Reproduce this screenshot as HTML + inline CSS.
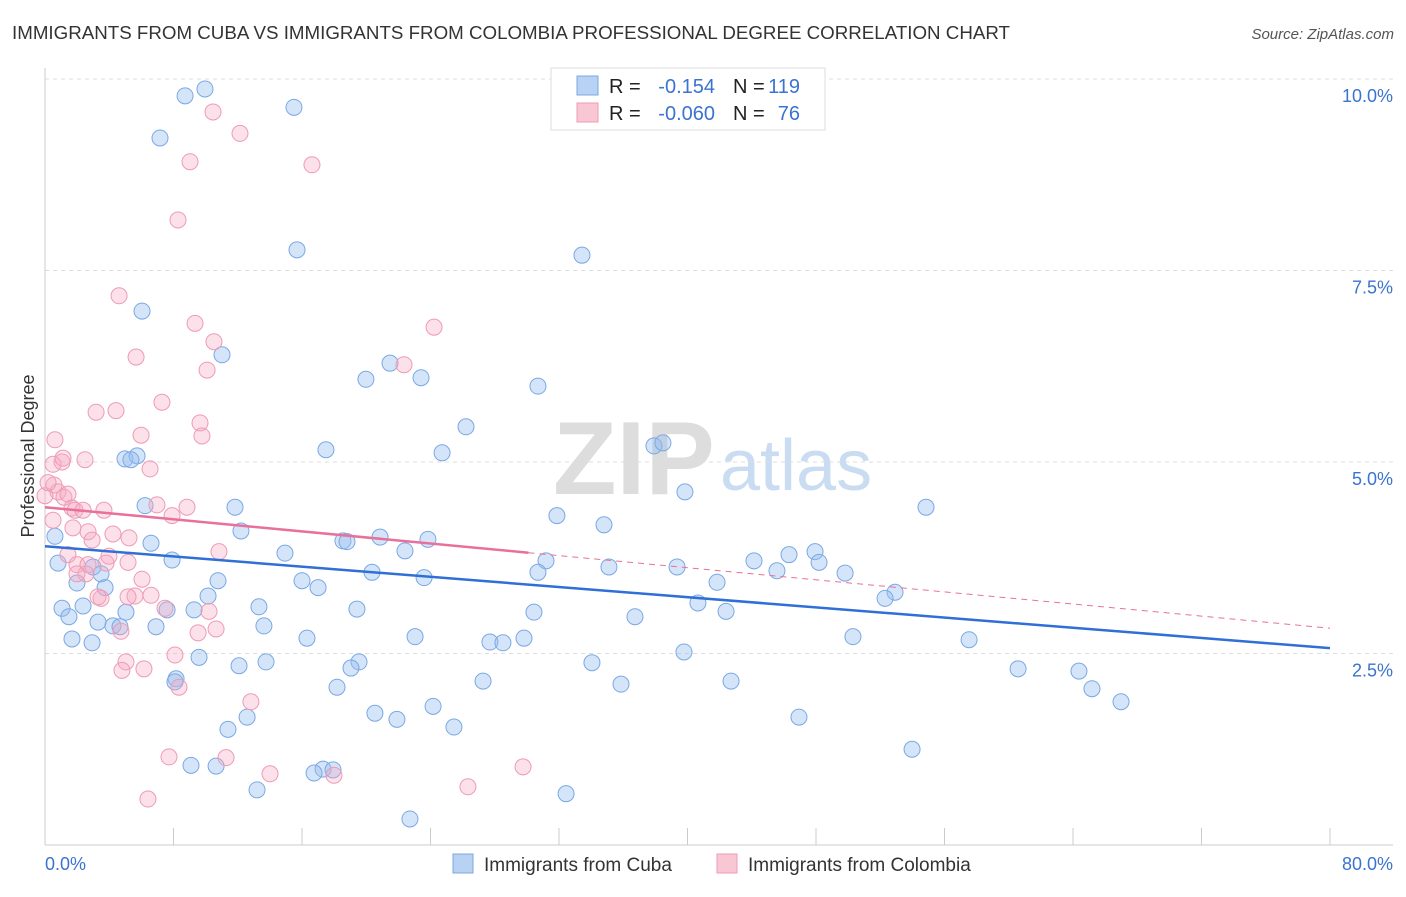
<!DOCTYPE html>
<html><head><meta charset="utf-8"><style>
body{margin:0;background:#fff;font-family:"Liberation Sans",sans-serif;}
svg text{font-family:"Liberation Sans",sans-serif;}
</style></head><body>
<svg id="chart" width="1406" height="892">
<text x="12" y="39" font-size="18" fill="#333" textLength="998" lengthAdjust="spacingAndGlyphs">IMMIGRANTS FROM CUBA VS IMMIGRANTS FROM COLOMBIA PROFESSIONAL DEGREE CORRELATION CHART</text>
<text x="1394" y="39" font-size="15" fill="#555" text-anchor="end" font-style="italic">Source: ZipAtlas.com</text>
<text x="553" y="494" font-size="104" fill="#ddd" font-family="Liberation Serif" font-weight="bold">ZIP</text>
<text x="720" y="490" font-size="72" fill="#c9dcf2">atlas</text>
<g id="grid"></g>
<g id="axes"></g>
<g id="pts"></g>
<g id="trend"></g>
<text x="34" y="456" font-size="18" fill="#333" text-anchor="middle" transform="rotate(-90 34 456)">Professional Degree</text>
<g>
<rect x="551" y="68" width="274" height="62" fill="#fff" stroke="#ddd"/>
<rect x="577" y="76" width="21" height="19" fill="#b8d2f4" stroke="#7ba7e2"/>
<rect x="577" y="103" width="21" height="19" fill="#f9c6d3" stroke="#ee9bb4"/>
<text x="609" y="93" font-size="20" fill="#222">R =</text><text x="715" y="93" font-size="20" fill="#3b73d0" text-anchor="end">-0.154</text>
<text x="733" y="93" font-size="20" fill="#222">N =</text><text x="800" y="93" font-size="20" fill="#3b73d0" text-anchor="end">119</text>
<text x="609" y="120" font-size="20" fill="#222">R =</text><text x="715" y="120" font-size="20" fill="#3b73d0" text-anchor="end">-0.060</text>
<text x="733" y="120" font-size="20" fill="#222">N =</text><text x="800" y="120" font-size="20" fill="#3b73d0" text-anchor="end">76</text>
</g>
<g>
<rect x="453" y="854" width="20" height="19" fill="#b8d2f4" stroke="#7ba7e2"/>
<text x="484" y="871" font-size="19" fill="#333">Immigrants from Cuba</text>
<rect x="717" y="854" width="20" height="19" fill="#f9c6d3" stroke="#ee9bb4"/>
<text x="748" y="871" font-size="19" fill="#333">Immigrants from Colombia</text>
</g>
</svg>
<script>
const yTicks=[2.5,5.0,7.5,10.0];
const xTickCount=10;
const xLabels=["0.0%","80.0%"];
const cubaX=[9.96,8.72,15.50,7.16,15.69,33.43,6.04,11.02,21.48,19.98,23.41,30.69,26.21,17.49,24.72,37.91,38.47,4.98,5.73,5.35,39.84,6.23,11.83,54.85,31.87,34.80,12.20,0.62,6.60,20.86,18.55,18.80,23.84,14.94,22.41,0.81,7.91,31.19,44.14,46.32,47.94,48.19,2.99,3.49,20.36,30.69,35.11,39.35,45.57,49.81,16.00,10.77,23.60,41.84,1.99,3.74,17.00,52.92,52.30,10.15,1.06,2.37,13.32,9.28,7.60,19.42,30.44,42.40,40.65,5.04,1.49,3.30,4.23,4.67,6.91,13.63,36.73,23.04,16.31,1.68,2.93,27.70,28.51,29.82,50.30,57.53,9.59,39.78,13.76,12.08,19.55,19.05,34.05,60.58,64.37,8.16,27.27,35.86,42.71,18.18,65.18,66.99,24.16,20.54,12.58,21.91,46.94,11.39,25.46,53.98,9.09,10.65,17.31,17.93,16.75,13.20,32.44,22.72,8.09];
const cubaY=[9.87,9.78,9.63,9.23,7.77,7.70,6.97,6.40,6.29,6.08,6.10,5.99,5.46,5.16,5.12,5.21,5.25,5.04,5.08,5.03,4.61,4.43,4.41,4.41,4.30,4.18,4.10,4.03,3.94,4.02,3.97,3.96,3.99,3.81,3.84,3.68,3.72,3.71,3.71,3.79,3.83,3.69,3.63,3.54,3.56,3.56,3.63,3.63,3.58,3.55,3.45,3.45,3.49,3.43,3.42,3.36,3.36,3.30,3.22,3.25,3.09,3.12,3.11,3.07,3.07,3.08,3.04,3.05,3.16,3.04,2.98,2.91,2.86,2.85,2.85,2.86,2.98,2.72,2.70,2.69,2.64,2.65,2.64,2.70,2.72,2.68,2.45,2.52,2.39,2.34,2.39,2.31,2.38,2.30,2.27,2.17,2.14,2.10,2.14,2.06,2.04,1.87,1.81,1.72,1.67,1.64,1.67,1.51,1.54,1.25,1.04,1.03,0.99,0.98,0.94,0.72,0.67,0.34,2.13];
const colX=[12.14,10.46,9.03,16.62,8.28,4.61,9.34,24.22,10.52,5.67,10.09,22.35,7.28,3.18,4.42,9.65,9.77,5.98,0.62,1.06,2.49,6.54,0.50,1.12,0.56,0.81,1.18,1.43,0,1.68,1.87,2.37,3.67,6.97,8.84,7.91,0.50,1.74,2.68,2.93,4.23,5.23,10.83,1.43,3.98,1.99,2.68,2.55,3.80,5.17,1.99,6.04,3.49,3.30,5.60,5.17,6.60,7.47,10.21,4.73,9.53,10.65,8.09,5.04,4.79,6.16,8.34,12.82,11.27,7.72,29.76,14.01,17.99,26.33,6.41,0.19];
const colY=[9.29,9.57,8.92,8.88,8.16,7.17,6.81,6.76,6.57,6.37,6.20,6.27,5.78,5.65,5.67,5.51,5.34,5.35,5.29,5.00,5.03,4.91,4.97,5.05,4.70,4.61,4.54,4.58,4.56,4.40,4.37,4.37,4.37,4.44,4.41,4.30,4.24,4.14,4.09,3.98,4.06,4.01,3.83,3.79,3.77,3.66,3.66,3.54,3.68,3.69,3.54,3.47,3.22,3.24,3.25,3.24,3.26,3.09,3.05,2.79,2.77,2.82,2.48,2.39,2.28,2.30,2.06,1.87,1.14,1.15,1.02,0.93,0.91,0.76,0.60,4.73];
const cubaTrend=[3.90,2.57];
const colTrend=[4.41,2.83];
const colSolidEnd=30.1;

const X0=45,X1=1330,Y0=845,PX=76.6;
const sx=v=>X0+(X1-X0)*v/80;
const sy=v=>Y0-v*PX;
const NS="http://www.w3.org/2000/svg";
function mk(tag,attrs,parent){const e=document.createElementNS(NS,tag);for(const k in attrs)e.setAttribute(k,attrs[k]);document.getElementById(parent).appendChild(e);return e;}

yTicks.forEach(t=>{
  const g=mk('line',{x1:X0,x2:1393,y1:sy(t),y2:sy(t),stroke:'#ddd','stroke-dasharray':'4,4'},'grid');
  
  
  const l=mk('text',{x:1393,y:sy(t)+23,'font-size':18,fill:'#3b73d0','text-anchor':'end'},'grid');
  l.textContent=t.toFixed(1)+'%';
  
  
});
const ax=mk('line',{x1:X0,x2:1393,y1:Y0,y2:Y0,stroke:'#ccc'},'axes');


const ay=mk('line',{x1:X0,x2:X0,y1:68,y2:Y0,stroke:'#ccc'},'axes');


for(let i=0;i<=xTickCount;i++){
  const v=80*i/xTickCount;
  const t=mk('line',{x1:sx(v),x2:sx(v),y1:Y0,y2:Y0-17,stroke:'#ccc'},'axes');
  
  
}
const xl0=mk('text',{x:45,y:870,'font-size':18,fill:'#3b73d0'},'axes');xl0.textContent=xLabels[0];


const xl1=mk('text',{x:1393,y:870,'font-size':18,fill:'#3b73d0','text-anchor':'end'},'axes');xl1.textContent=xLabels[1];



cubaX.forEach((v,i)=>{
  const c=mk('circle',{cx:sx(v),cy:sy(cubaY[i]),r:8,fill:'rgba(150,190,240,0.4)',stroke:'#7aa8e4','stroke-width':1},'pts');
  
  
});
colX.forEach((v,i)=>{
  const c=mk('circle',{cx:sx(v),cy:sy(colY[i]),r:8,fill:'rgba(245,170,195,0.35)',stroke:'#ee9bb4','stroke-width':1},'pts');
  
  
});
const bl=mk('line',{x1:sx(0),y1:sy(cubaTrend[0]),x2:sx(80),y2:sy(cubaTrend[1]),stroke:'#2f6fd6','stroke-width':2.5},'trend');


const pe=colTrend[0]+(colTrend[1]-colTrend[0])*colSolidEnd/80;
const pl=mk('line',{x1:sx(0),y1:sy(colTrend[0]),x2:sx(colSolidEnd),y2:sy(pe),stroke:'#e8709a','stroke-width':2.5},'trend');


const pd=mk('line',{x1:sx(colSolidEnd),y1:sy(pe),x2:sx(80),y2:sy(colTrend[1]),stroke:'#e8709a','stroke-width':1,'stroke-dasharray':'6,5'},'trend');


</script>
</body></html>
